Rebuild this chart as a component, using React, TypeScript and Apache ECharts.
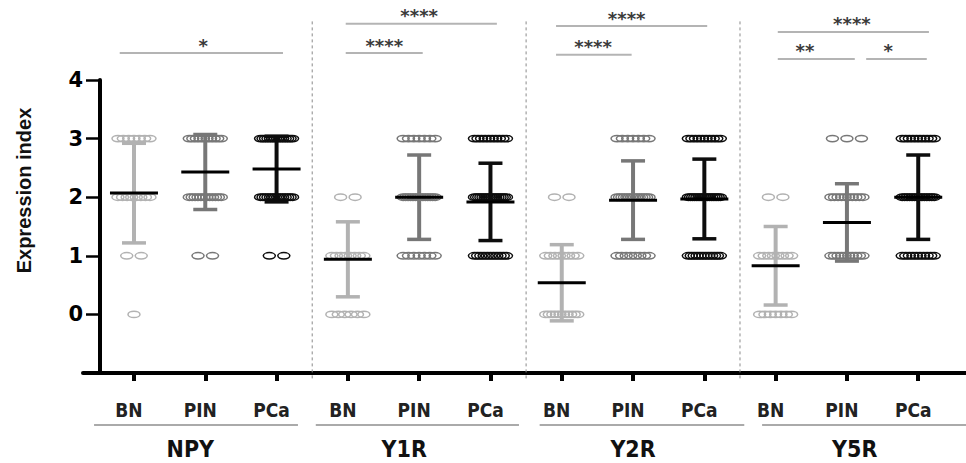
import React, { useEffect, useRef } from 'react';
import * as echarts from 'echarts';

// ---- data ----
const genes = ['NPY', 'Y1R', 'Y2R', 'Y5R'];
const tissues = ['BN', 'PIN', 'PCa'];
const columnLabels = genes.flatMap(() => tissues);
const yTickValues = [0, 1, 2, 3, 4];
const scoreLevels = [0, 1, 2, 3];

// mean and SD per column (BN, PIN, PCa for each gene)
const means = [2.07, 2.43, 2.48, 0.94, 2.0, 1.92, 0.54, 1.95, 1.97, 0.83, 1.57, 2.0];
const sds = [0.85, 0.64, 0.56, 0.64, 0.72, 0.66, 0.65, 0.67, 0.68, 0.67, 0.66, 0.72];

// number of samples with score 0, 1, 2, 3 per column
const countsScore0 = [1, 0, 0, 6, 0, 0, 10, 0, 0, 7, 0, 0];
const countsScore1 = [2, 2, 2, 8, 7, 11, 8, 8, 12, 8, 10, 10];
const countsScore2 = [8, 12, 14, 2, 14, 16, 2, 14, 16, 2, 10, 14];
const countsScore3 = [7, 10, 14, 0, 7, 10, 0, 7, 10, 0, 3, 10];
const countsByScore = [countsScore0, countsScore1, countsScore2, countsScore3];

// significance brackets (column units, level in axis units)
const sigLabels = ['*', '****', '****', '****', '****', '****', '**', '*'];
const sigFrom = [-0.2, 2.97, 2.97, 5.92, 5.92, 9.03, 9.03, 10.27];
const sigTo = [2.09, 5.09, 4.05, 8.04, 6.98, 11.15, 10.11, 11.12];
const sigLevel = [4.46, 4.96, 4.46, 4.92, 4.43, 4.82, 4.36, 4.36];
const sigTextAt = [0.97, 4.0, 3.51, 6.91, 6.44, 10.07, 9.41, 10.58];

// gene group underline and label positions (column units)
const geneLineFrom = [-0.56, 2.55, 5.69, 8.81];
const geneLineTo = [2.3, 5.4, 8.56, 11.67];
const geneLabelAt = [0.79, 3.79, 7.0, 10.11];

const separators = [2.5, 5.5, 8.5];

const tissueColors = ['#b2b2b2', '#777777', '#0d0d0d'];

const narrow = "'Liberation Sans Narrow', 'DejaVu Sans Condensed', 'Liberation Sans', sans-serif";

export default function App() {
  const ref = useRef<HTMLDivElement>(null);

  useEffect(() => {
    if (!ref.current) return;
    const chart = echarts.init(ref.current, undefined, { renderer: 'svg' });

    const pointData: number[][] = [];
    columnLabels.forEach((_, col) => {
      scoreLevels.forEach((lvl) => {
        const n = countsByScore[lvl][col];
        if (n > 0) pointData.push([col, lvl, n]);
      });
    });
    const errData = means.map((m, i) => [i, m, sds[i]]);
    const sigData = sigLabels.map((_, i) => [sigFrom[i], sigLevel[i], sigTo[i], i]);
    const geneData = genes.map((_, i) => [geneLineFrom[i], -1, geneLineTo[i], i]);
    const sepData = separators.map((s) => [s, 0]);

    const option: any = {
      animation: false,
      grid: { left: 83, right: 0, top: 80, bottom: 90, containLabel: false },
      xAxis: {
        type: 'value',
        min: -0.715,
        max: 11.67,
        splitLine: { show: false },
        axisLine: { onZero: false, lineStyle: { color: '#000', width: 4 } },
        axisTick: {
          show: true,
          customValues: columnLabels.map((_, i) => i),
          length: 8,
          lineStyle: { color: '#000', width: 4 },
        },
        axisLabel: {
          customValues: columnLabels.map((_, i) => i),
          formatter: (v: number) => columnLabels[Math.round(v)] ?? '',
          margin: 27,
          padding: [0, 10, 0, 0],
          fontFamily: narrow,
          fontWeight: 'bold',
          fontSize: 19,
          color: '#222',
        },
      },
      yAxis: {
        type: 'value',
        min: -1,
        max: 4,
        interval: 1,
        offset: -17,
        splitLine: { show: false },
        axisLine: { show: true, onZero: false, lineStyle: { color: '#000', width: 4 } },
        axisTick: {
          show: true,
          customValues: yTickValues,
          length: 14,
          lineStyle: { color: '#000', width: 2.5 },
        },
        axisLabel: {
          customValues: yTickValues,
          margin: 17,
          fontFamily: "'DejaVu Sans', sans-serif",
          fontWeight: 'bold',
          fontSize: 21,
          color: '#000',
        },
        name: 'Expression index',
        nameLocation: 'middle',
        nameRotate: 90,
        nameGap: 66,
        nameTextStyle: {
          fontFamily: "'Liberation Sans', Arial, sans-serif",
          fontWeight: 'bold',
          fontSize: 20,
          color: '#111',
          padding: [0, 0, 0, 72],
        },
      },
      series: [
        {
          type: 'custom',
          name: 'separators',
          data: sepData,
          z: 1,
          renderItem: (params: any, api: any) => {
            const x = api.value(0);
            const p1 = api.coord([x, 5.0]);
            const p2 = api.coord([x, -1.12]);
            return {
              type: 'line',
              shape: { x1: p1[0], y1: p1[1], x2: p2[0], y2: p2[1] },
              style: { stroke: '#8a8a8a', lineWidth: 1, lineDash: [3, 3] },
            };
          },
        },
        {
          type: 'custom',
          name: 'points',
          data: pointData,
          z: 3,
          renderItem: (params: any, api: any) => {
            const col = api.value(0);
            const lvl = api.value(1);
            const n = api.value(2);
            const c = api.coord([col, lvl]);
            const step = n <= 3 ? 14.5 : Math.min(14.5, 32 / (n - 1));
            const color = tissueColors[col % 3];
            const children: any[] = [];
            for (let i = 0; i < n; i++) {
              children.push({
                type: 'ellipse',
                shape: { cx: c[0] + (i - (n - 1) / 2) * step, cy: c[1], rx: 6, ry: 3.2 },
                style: { fill: 'none', stroke: color, lineWidth: 1.5 },
              });
            }
            return { type: 'group', children };
          },
        },
        {
          type: 'custom',
          name: 'errorbars',
          data: errData,
          z: 4,
          renderItem: (params: any, api: any) => {
            const col = api.value(0);
            const m = api.value(1);
            const s = api.value(2);
            const top = api.coord([col, m + s]);
            const bot = api.coord([col, m - s]);
            const mid = api.coord([col, m]);
            const color = tissueColors[col % 3];
            const x = top[0];
            return {
              type: 'group',
              children: [
                { type: 'line', shape: { x1: x, y1: top[1], x2: x, y2: bot[1] }, style: { stroke: color, lineWidth: 4 } },
                { type: 'line', shape: { x1: x - 12, y1: top[1], x2: x + 12, y2: top[1] }, style: { stroke: color, lineWidth: 3.5 } },
                { type: 'line', shape: { x1: x - 12, y1: bot[1], x2: x + 12, y2: bot[1] }, style: { stroke: color, lineWidth: 3.5 } },
                { type: 'line', shape: { x1: x - 24, y1: mid[1], x2: x + 24, y2: mid[1] }, style: { stroke: '#000', lineWidth: 3 } },
              ],
            };
          },
        },
        {
          type: 'custom',
          name: 'significance',
          data: sigData,
          z: 4,
          renderItem: (params: any, api: any) => {
            const from = api.value(0);
            const lvl = api.value(1);
            const to = api.value(2);
            const idx = api.value(3);
            const p1 = api.coord([from, lvl]);
            const p2 = api.coord([to, lvl]);
            const pt = api.coord([sigTextAt[idx], lvl]);
            return {
              type: 'group',
              children: [
                { type: 'line', shape: { x1: p1[0], y1: p1[1], x2: p2[0], y2: p2[1] }, style: { stroke: '#b4b4b4', lineWidth: 2 } },
                {
                  type: 'text',
                  x: pt[0],
                  y: pt[1] - 8,
                  style: {
                    text: sigLabels[idx],
                    align: 'center',
                    verticalAlign: 'middle',
                    fontFamily: "'DejaVu Sans', sans-serif",
                    fontWeight: 'bold',
                    fontSize: 18,
                    fill: '#3a3a3a',
                  },
                },
              ],
            };
          },
        },
        {
          type: 'custom',
          name: 'genes',
          data: geneData,
          z: 4,
          renderItem: (params: any, api: any) => {
            const from = api.value(0);
            const base = api.value(1);
            const to = api.value(2);
            const idx = api.value(3);
            const p1 = api.coord([from, base]);
            const p2 = api.coord([to, base]);
            const pl = api.coord([geneLabelAt[idx], base]);
            return {
              type: 'group',
              children: [
                { type: 'line', shape: { x1: p1[0], y1: p1[1] + 52, x2: p2[0], y2: p2[1] + 52 }, style: { stroke: '#aaaaaa', lineWidth: 2 } },
                {
                  type: 'text',
                  x: pl[0],
                  y: pl[1] + 76,
                  style: {
                    text: genes[idx],
                    align: 'center',
                    verticalAlign: 'middle',
                    fontFamily: narrow,
                    fontWeight: 'bold',
                    fontSize: 23,
                    fill: '#111',
                  },
                },
              ],
            };
          },
        },
      ],
    };

    chart.setOption(option);
    return () => chart.dispose();
  }, []);

  return (
    <div
      ref={ref}
      style={{ position: 'fixed', left: 0, top: 0, width: 966, height: 463, background: '#fff' }}
    />
  );
}
